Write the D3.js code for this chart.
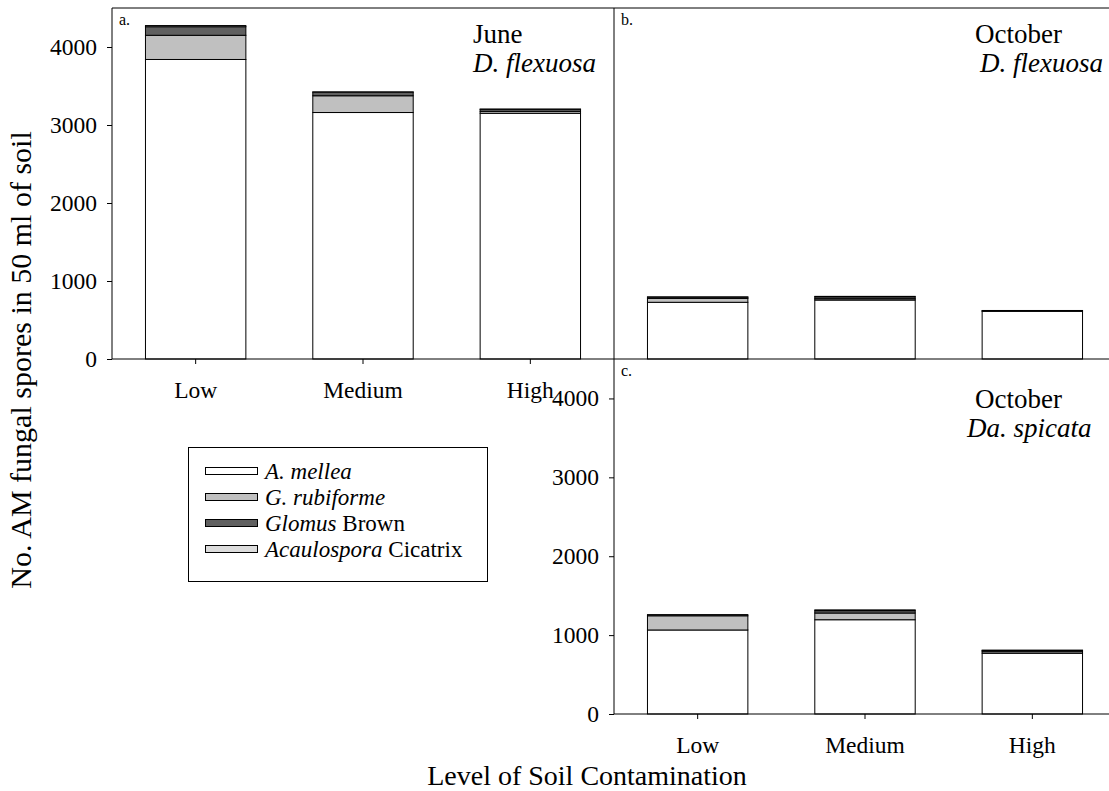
<!DOCTYPE html>
<html>
<head>
<meta charset="utf-8">
<script src="https://cdn.jsdelivr.net/npm/d3@7"></script>
<style>
body{margin:0;background:#fff;}
text{font-family:"Liberation Serif","Times New Roman",serif;fill:#000;}
</style>
</head>
<body>
<svg width="1109" height="791"></svg>
<script>
// categories + series
var levels = ["Low", "Medium", "High"];
var species = ["A. mellea", "G. rubiforme", "Glomus Brown", "Acaulospora Cicatrix"];
var fills = ["#ffffff", "#c0c0c0", "#606060", "#dcdcdc"];
var yTicks = [0, 1000, 2000, 3000, 4000];

// June D. flexuosa
var juneFlex_mellea = [3840, 3160, 3150];
var juneFlex_rubiforme = [310, 215, 25];
var juneFlex_brown = [110, 45, 25];
var juneFlex_cicatrix = [15, 5, 5];

// October D. flexuosa
var octFlex_mellea = [727, 756, 612];
var octFlex_rubiforme = [50, 17, 5];
var octFlex_brown = [15, 25, 5];
var octFlex_cicatrix = [5, 5, 0];

// October Da. spicata
var octSpic_mellea = [1065, 1195, 770];
var octSpic_rubiforme = [180, 85, 20];
var octSpic_brown = [15, 30, 15];
var octSpic_cicatrix = [0, 10, 5];

var svg = d3.select("svg");

function buildRows(m, r, b, c){
    return levels.map(function(l, i){
        return {level: l, "A. mellea": m[i], "G. rubiforme": r[i], "Glomus Brown": b[i], "Acaulospora Cicatrix": c[i]};
    });
}

function panel(opt){
    var x = d3.scaleBand().domain(levels)
        .range([opt.left, opt.left + 502])
        .paddingInner(0.4).paddingOuter(0.2);
    var y = d3.scaleLinear().domain([0, 4500]).range([opt.bottom, opt.top]);
    var stack = d3.stack().keys(species)(opt.rows);

    var g = svg.append("g");
    g.selectAll("g.layer")
        .data(stack)
        .enter()
        .append("g")
        .attr("class", "layer")
        .attr("fill", function(d, i){ return fills[i]; })
        .selectAll("rect")
        .data(function(d){ return d; })
        .enter()
        .append("rect")
        .attr("x", function(d){ return x(d.data.level); })
        .attr("width", x.bandwidth())
        .attr("y", function(d){ return y(d[1]); })
        .attr("height", function(d){ return y(d[0]) - y(d[1]); })
        .attr("stroke", "#000")
        .attr("stroke-width", 1);

    if(opt.yAxis){
        var ya = g.append("g")
            .attr("transform", "translate(" + opt.left + ",0)")
            .call(d3.axisLeft(y).tickValues(yTicks).tickFormat(d3.format("d"))
                .tickSize(5).tickSizeOuter(0).tickPadding(10));
        ya.select(".domain").remove();
        ya.selectAll("text").attr("font-size", 23.5);
    }
    if(opt.xAxis){
        var xa = g.append("g")
            .attr("transform", "translate(0," + opt.bottom + ")")
            .call(d3.axisBottom(x).tickSize(5).tickSizeOuter(0).tickPadding(17));
        xa.select(".domain").remove();
        xa.selectAll("text").attr("font-size", 23.5);
    }

    // frame lines
    g.append("line").attr("x1", opt.left).attr("x2", opt.left)
        .attr("y1", opt.top).attr("y2", opt.bottom).attr("stroke", "#000");
    g.append("line").attr("x1", opt.left).attr("x2", opt.left + 502)
        .attr("y1", opt.bottom).attr("y2", opt.bottom).attr("stroke", "#000");

    g.append("text").attr("x", opt.left + 7).attr("y", opt.top + 17)
        .attr("font-size", 16).text(opt.letter);
    g.append("text").attr("x", opt.tx).attr("y", opt.top + opt.ty)
        .attr("font-size", 27).text(opt.month);
    g.append("text").attr("x", opt.tx2).attr("y", opt.top + opt.ty + 29)
        .attr("font-size", 27).attr("font-style", "italic").text(opt.plant);
}

panel({left: 112, top: 8, bottom: 359, rows: buildRows(juneFlex_mellea, juneFlex_rubiforme, juneFlex_brown, juneFlex_cicatrix),
    yAxis: true, xAxis: true, letter: "a.", month: "June", plant: "D. flexuosa", tx: 473, tx2: 473, ty: 35});
panel({left: 614, top: 8, bottom: 359, rows: buildRows(octFlex_mellea, octFlex_rubiforme, octFlex_brown, octFlex_cicatrix),
    yAxis: false, xAxis: false, letter: "b.", month: "October", plant: "D. flexuosa", tx: 975, tx2: 980, ty: 35});
panel({left: 614, top: 359, bottom: 714, rows: buildRows(octSpic_mellea, octSpic_rubiforme, octSpic_brown, octSpic_cicatrix),
    yAxis: true, xAxis: true, letter: "c.", month: "October", plant: "Da. spicata", tx: 975, tx2: 967, ty: 49});

// top border
svg.append("line").attr("x1", 112).attr("x2", 1109).attr("y1", 8).attr("y2", 8).attr("stroke", "#000");

// axis titles
svg.append("text")
    .attr("transform", "translate(31,360) rotate(-90)")
    .attr("text-anchor", "middle")
    .attr("font-size", 30)
    .text("No. AM fungal spores in 50 ml of soil");
svg.append("text")
    .attr("x", 587).attr("y", 785)
    .attr("text-anchor", "middle")
    .attr("font-size", 28)
    .text("Level of Soil Contamination");

// legend
var leg = svg.append("g");
leg.append("rect").attr("x", 188.5).attr("y", 447.5).attr("width", 299).attr("height", 134)
    .attr("fill", "#fff").attr("stroke", "#000");
var items = leg.selectAll("g.item").data(species).enter().append("g")
    .attr("transform", function(d, i){ return "translate(0," + (471 + i * 26) + ")"; });
items.append("rect").attr("x", 205.5).attr("y", -3.5).attr("width", 52).attr("height", 7)
    .attr("fill", function(d, i){ return fills[i]; }).attr("stroke", "#000");
var lt = items.append("text").attr("x", 265).attr("y", 8).attr("font-size", 23);
lt.each(function(d){
    var t = d3.select(this);
    var parts = d.split(" ");
    if(d == "Glomus Brown" || d == "Acaulospora Cicatrix"){
        t.append("tspan").attr("font-style", "italic").text(parts[0]);
        t.append("tspan").text(" " + parts[1]);
    } else {
        t.append("tspan").attr("font-style", "italic").text(d);
    }
});
</script>
</body>
</html>
